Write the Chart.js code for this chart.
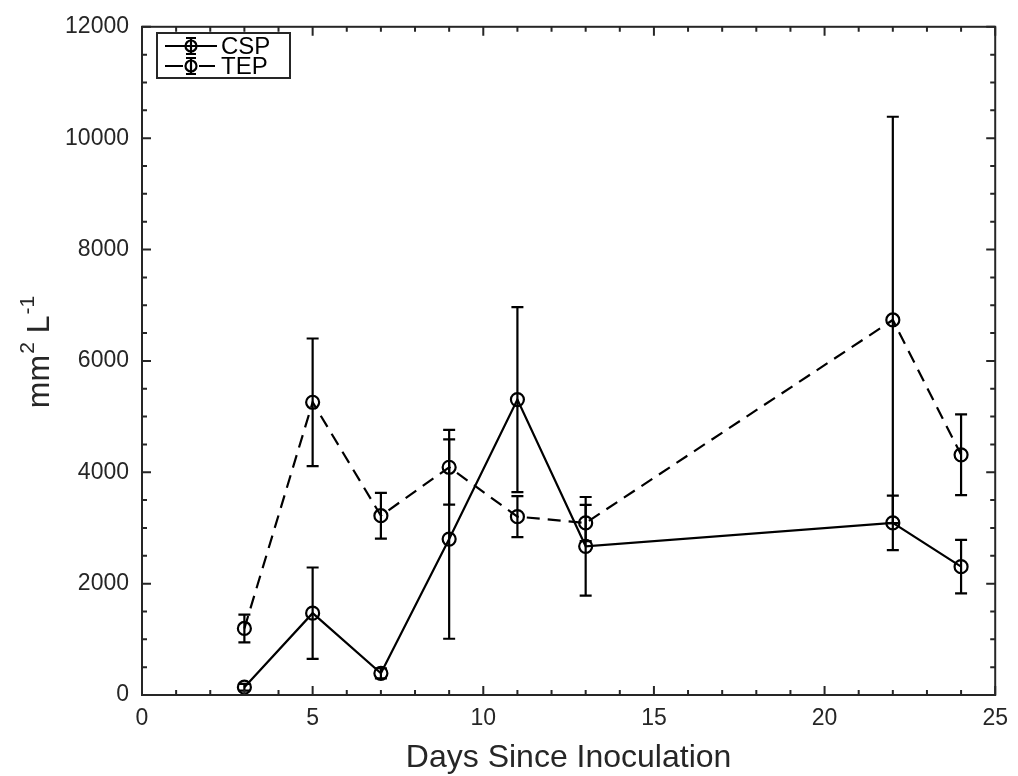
<!DOCTYPE html>
<html>
<head>
<meta charset="utf-8">
<script src="https://cdn.jsdelivr.net/npm/chart.js@4.4.1/dist/chart.umd.min.js"></script>
<style>
  html, body { margin: 0; padding: 0; background: #ffffff; }
  #wrap { width: 1018px; height: 776px; }
</style>
</head>
<body>
<div id="wrap"><canvas id="c" width="1018" height="776"></canvas></div>
<script>
// ---- data ----
const days = [3, 5, 7, 9, 11, 13, 22, 24];
const cspValues = [140, 1470, 390, 2800, 5305, 2670, 3090, 2305];
const cspErrors = [60, 820, 90, 1790, 1660, 886, 490, 480];
const tepValues = [1195, 5257, 3220, 4090, 3203, 3090, 6735, 4313];
const tepErrors = [250, 1145, 410, 670, 367, 325, 3650, 725];
const seriesLabels = ['CSP', 'TEP'];
const xTitle = 'Days Since Inoculation';
const yTitleParts = ['mm', '2', ' L', '-1'];

const FONT = '"Liberation Sans", Arial, Helvetica, sans-serif';
const AX = '#262626';

function toPoints(vals) { return days.map((d, i) => ({ x: d, y: vals[i] })); }
const errorSets = [cspErrors, tepErrors];

const ds = (label, vals, dash) => ({
  label: label,
  data: toPoints(vals),
  borderColor: '#000',
  borderWidth: 2.2,
  borderDash: dash,
  pointStyle: 'circle',
  pointRadius: 6.5,
  pointBorderWidth: 2.2,
  pointBorderColor: '#000',
  pointBackgroundColor: 'rgba(0,0,0,0)',
  fill: false,
  tension: 0
});

const errorBarPlugin = {
  id: 'errorBars',
  afterDatasetsDraw(chart) {
    const ctx = chart.ctx, xs = chart.scales.x, ys = chart.scales.y;
    ctx.save();
    ctx.strokeStyle = '#000';
    ctx.lineWidth = 2.2;
    ctx.setLineDash([]);
    chart.data.datasets.forEach((d, di) => {
      const errs = errorSets[di];
      d.data.forEach((p, i) => {
        const px = xs.getPixelForValue(p.x);
        const top = ys.getPixelForValue(p.y + errs[i]);
        const bot = ys.getPixelForValue(p.y - errs[i]);
        const cw = 6;
        ctx.beginPath();
        ctx.moveTo(px, top); ctx.lineTo(px, bot);
        ctx.moveTo(px - cw, top); ctx.lineTo(px + cw, top);
        ctx.moveTo(px - cw, bot); ctx.lineTo(px + cw, bot);
        ctx.stroke();
      });
    });
    ctx.restore();
  }
};

const framePlugin = {
  id: 'frame',
  afterDraw(chart) {
    const ctx = chart.ctx, a = chart.chartArea, xs = chart.scales.x, ys = chart.scales.y;
    ctx.save();
    ctx.strokeStyle = AX;
    ctx.lineWidth = 2;
    ctx.setLineDash([]);
    ctx.strokeRect(a.left, a.top, a.right - a.left, a.bottom - a.top);
    const MAJ = 9, MIN = 5;
    ctx.beginPath();
    for (let v = xs.min; v <= xs.max + 1e-9; v += 1) {
      const px = xs.getPixelForValue(v);
      const L = (Math.round(v) % 5 === 0) ? MAJ : MIN;
      ctx.moveTo(px, a.bottom); ctx.lineTo(px, a.bottom - L);
      ctx.moveTo(px, a.top); ctx.lineTo(px, a.top + L);
    }
    for (let v = ys.min; v <= ys.max + 1e-9; v += 500) {
      const py = ys.getPixelForValue(v);
      const L = (Math.round(v) % 2000 === 0) ? MAJ : MIN;
      ctx.moveTo(a.left, py); ctx.lineTo(a.left + L, py);
      ctx.moveTo(a.right, py); ctx.lineTo(a.right - L, py);
    }
    ctx.stroke();

    // axis titles
    ctx.fillStyle = AX;
    ctx.textBaseline = 'alphabetic';
    ctx.font = '32px ' + FONT;
    ctx.textAlign = 'center';
    ctx.fillText(xTitle, (a.left + a.right) / 2, 767);

    const big = '32px ' + FONT, small = '21px ' + FONT;
    ctx.font = big; const w0 = ctx.measureText(yTitleParts[0]).width;
    ctx.font = small; const w1 = ctx.measureText(yTitleParts[1]).width;
    ctx.font = big; const w2 = ctx.measureText(yTitleParts[2]).width;
    ctx.font = small; const w3 = ctx.measureText(yTitleParts[3]).width;
    const total = w0 + w1 + w2 + w3 + 2;
    ctx.translate(49, 352);
    ctx.rotate(-Math.PI / 2);
    ctx.textAlign = 'left';
    let x = -total / 2;
    ctx.font = big; ctx.fillText(yTitleParts[0], x, 0); x += w0;
    ctx.font = small; ctx.fillText(yTitleParts[1], x + 1, -15); x += w1 + 1;
    ctx.font = big; ctx.fillText(yTitleParts[2], x, 0); x += w2;
    ctx.font = small; ctx.fillText(yTitleParts[3], x + 1, -15);
    ctx.restore();

    // legend
    ctx.save();
    const bx = 157, by = 33, bw = 133, bh = 45;
    ctx.fillStyle = '#fff';
    ctx.fillRect(bx, by, bw, bh);
    ctx.strokeStyle = AX; ctx.lineWidth = 2;
    ctx.strokeRect(bx, by, bw, bh);
    chart.data.datasets.forEach((d, i) => {
      const ry = by + 13 + i * 20;
      const x0 = bx + 8, x1 = bx + 60, xm = (x0 + x1) / 2;
      ctx.strokeStyle = '#000'; ctx.lineWidth = 2.2;
      ctx.beginPath();
      if (d.borderDash && d.borderDash.length) {
        ctx.moveTo(x0, ry); ctx.lineTo(xm - 8, ry);
        ctx.moveTo(xm + 8, ry); ctx.lineTo(x1 - 2, ry);
      } else {
        ctx.moveTo(x0, ry); ctx.lineTo(x1, ry);
      }
      ctx.stroke();
      ctx.beginPath();
      ctx.moveTo(xm, ry - 8); ctx.lineTo(xm, ry + 8);
      ctx.moveTo(xm - 5, ry - 8); ctx.lineTo(xm + 5, ry - 8);
      ctx.moveTo(xm - 5, ry + 8); ctx.lineTo(xm + 5, ry + 8);
      ctx.stroke();
      ctx.beginPath();
      ctx.arc(xm, ry, 5.5, 0, Math.PI * 2);
      ctx.stroke();
      ctx.fillStyle = '#000';
      ctx.font = '24px ' + FONT;
      ctx.textAlign = 'left';
      ctx.textBaseline = 'middle';
      ctx.fillText(d.label, x1 + 4, ry + 1);
    });
    ctx.restore();
  }
};

const plainTick = v => String(v);

new Chart(document.getElementById('c'), {
  type: 'line',
  data: {
    datasets: [
      ds(seriesLabels[0], cspValues, []),
      ds(seriesLabels[1], tepValues, [13, 8])
    ]
  },
  options: {
    responsive: false,
    animation: false,
    devicePixelRatio: 1,
    layout: { padding: { left: 0, top: 18, right: 17, bottom: 0 } },
    plugins: { legend: { display: false }, tooltip: { enabled: false } },
    scales: {
      x: {
        type: 'linear', min: 0, max: 25,
        grid: { display: false, drawTicks: false },
        border: { display: false },
        ticks: { stepSize: 5, color: AX, padding: 10, font: { family: FONT, size: 23 }, maxRotation: 0, callback: plainTick },
        afterFit(s) { s.height = 81; }
      },
      y: {
        type: 'linear', min: 0, max: 12000,
        grid: { display: false, drawTicks: false },
        border: { display: false },
        ticks: { stepSize: 2000, color: AX, padding: 13, font: { family: FONT, size: 23 }, callback: plainTick },
        afterFit(s) { s.width = 142; }
      }
    }
  },
  plugins: [errorBarPlugin, framePlugin]
});
</script>
</body>
</html>
